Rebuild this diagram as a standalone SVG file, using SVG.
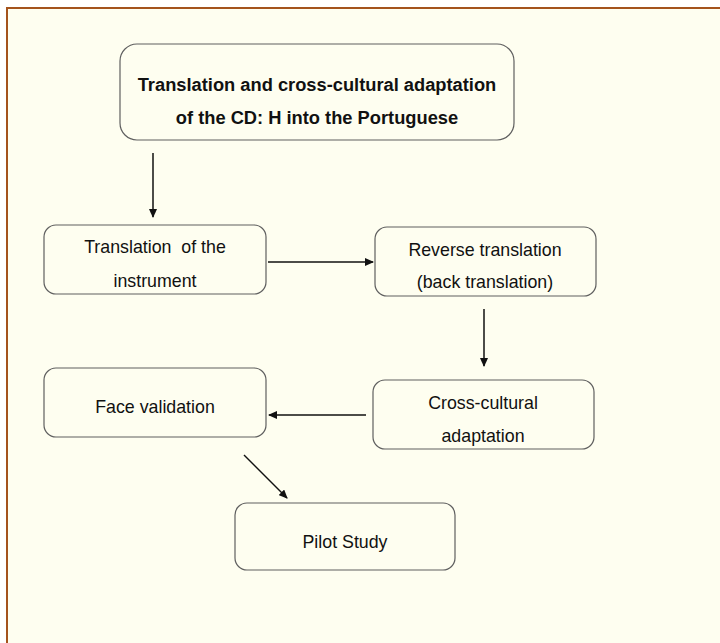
<svg xmlns="http://www.w3.org/2000/svg" width="720" height="643" viewBox="0 0 720 643">
<style>
.box{fill:none;stroke:#5f5f5f;stroke-width:1.2}
.t{font-family:"Liberation Sans",Arial,sans-serif;font-size:17.8px;fill:#111;text-anchor:middle}
.b{font-weight:bold;font-size:18.3px}
.arr{stroke:#111;stroke-width:1.5;fill:none;marker-end:url(#ah)}
</style>
<defs>
<marker id="ah" markerUnits="userSpaceOnUse" markerWidth="9" markerHeight="8" refX="8" refY="4" orient="auto">
<path d="M0,0 L9,4 L0,8 Z" fill="#111"/>
</marker>
</defs>
<rect x="0" y="0" width="720" height="643" fill="#ffffff"/>
<rect x="7" y="8" width="730" height="700" fill="#fefef0" stroke="#a4531c" stroke-width="2"/>
<g id="connectors">
<line class="arr" x1="153" y1="153" x2="153" y2="217"/>
<line class="arr" x1="268" y1="262" x2="373" y2="262"/>
<line class="arr" x1="484" y1="309" x2="484" y2="366"/>
<line class="arr" x1="366" y1="415" x2="269" y2="415"/>
<line class="arr" x1="244" y1="455" x2="287" y2="498"/>
</g>
<g id="n-title">
<rect class="box" x="120" y="44" width="394" height="96" rx="17"/>
<text class="t b" x="317" y="91">Translation and cross-cultural adaptation</text>
<text class="t b" x="317" y="124">of the CD: H into the Portuguese</text>
</g>
<g id="n-translation">
<rect class="box" x="44" y="225" width="222" height="69" rx="12"/>
<text class="t" x="155" y="253" xml:space="preserve">Translation  of the</text>
<text class="t" x="155" y="287">instrument</text>
</g>
<g id="n-reverse">
<rect class="box" x="375" y="227" width="221" height="69" rx="12"/>
<text class="t" x="485" y="256">Reverse translation</text>
<text class="t" x="485" y="288">(back translation)</text>
</g>
<g id="n-cross">
<rect class="box" x="373" y="380" width="221" height="69" rx="12"/>
<text class="t" x="483" y="409">Cross-cultural</text>
<text class="t" x="483" y="442">adaptation</text>
</g>
<g id="n-face">
<rect class="box" x="44" y="368" width="222" height="69" rx="12"/>
<text class="t" x="155" y="413">Face validation</text>
</g>
<g id="n-pilot">
<rect class="box" x="235" y="503" width="220" height="67" rx="12"/>
<text class="t" x="345" y="548">Pilot Study</text>
</g>
</svg>
